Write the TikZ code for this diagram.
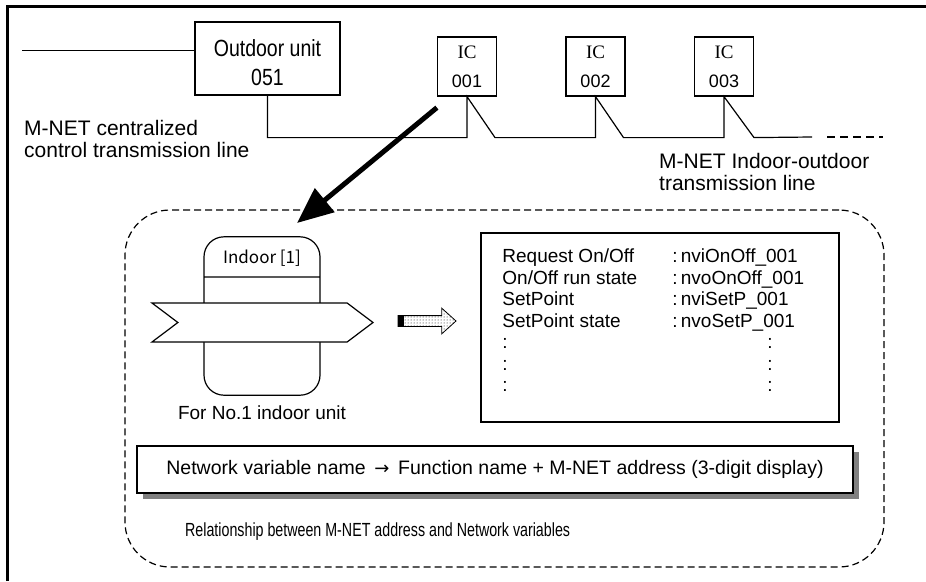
\documentclass[tikz,border=0pt]{standalone}
\usepackage{fontspec}
\setmainfont{Liberation Sans}
\newfontfamily\icfont{Liberation Serif}
\newfontfamily\jpfont{Noto Sans CJK JP}
\newfontfamily\symfont{DejaVu Sans}
\newfontfamily\narrowfont[FakeStretch=0.75]{Liberation Sans}
\usetikzlibrary{shapes.symbols, shapes.arrows, shapes.multipart, arrows.meta, patterns, shadows, positioning}
\tikzstyle{unit} = [rectangle, draw = black, line width=1.2pt, align=center, inner sep=0pt]
\tikzstyle{wire} = [line width=1.2pt]
\tikzstyle{bigarrow} = [-{Triangle[length=36pt, width=30pt]}, line width=5pt]
\tikzstyle{group} = [rectangle, draw = black, line width=1.2pt, dash pattern=on 7pt off 4pt, rounded corners=45pt]
\tikzstyle{netlabel} = [inner sep=0pt, align=left, font=\fontsize{21}{22}\selectfont]

\begin{document}
\begin{tikzpicture}[x=1pt, y=-1pt, node distance=128.5pt]
\useasboundingbox (0,0) rectangle (926,581);
%外框
\draw[line width=3pt] (7,581) -- (7,6) -- (926,6);
%室外机和室内机
\node[unit, minimum width=145pt, minimum height=73pt, font=\fontsize{19.5}{29}\selectfont](out) at (267.5,58.5){\rule{0pt}{26pt}\scalebox{1}[1.2]{Outdoor unit}\\\scalebox{1}[1.2]{051}};
\node[unit, minimum size=59pt, font=\fontsize{18}{29}\selectfont](ic1) at (467,66.5){{\icfont\fontsize{19}{29}\selectfont IC}\\001};
\node[unit, minimum size=59pt, font=\fontsize{18}{29}\selectfont, right of = ic1](ic2){{\icfont\fontsize{19}{29}\selectfont IC}\\002};
\node[unit, minimum size=59pt, font=\fontsize{18}{29}\selectfont, right of = ic2](ic3){{\icfont\fontsize{19}{29}\selectfont IC}\\003};
\coordinate (lin) at (22,50.5);
\coordinate (lend) at (812,137);
\coordinate (d1) at (827,137);
\coordinate (d2) at (883,137);
\node[netlabel, anchor=north west](ctl) at (24,120){M-NET centralized\\control transmission line};
\node[netlabel, anchor=north west](ioline) at (659,153){M-NET Indoor-outdoor\\transmission line};
%连接线
\draw[wire] (lin) -- (lin -| out.west);
\draw[wire] (out.south) |- ([yshift=-41pt]ic1.south) -- (ic1.south) -- ++(28,41) -| (ic2.south) -- ++(28,41) -| (ic3.south) -- ++(30,41) -- (lend);
\draw[wire, dash pattern=on 8pt off 5pt] (d1) -- (d2);
%虚线框
\node[group, minimum width=759pt, minimum height=357pt](grp) at (504.5,388.5){};
\coordinate (tip) at (297,223);
\draw[bigarrow] ([yshift=-11pt]ic1.south west) -- (tip);
%室内机
\node[draw, rectangle split, rectangle split parts=2, rounded corners=20pt, line width=1.2pt, minimum width=116pt, inner sep=0pt, rectangle split empty part height=117pt, font=\jpfont\fontsize{17}{20}\selectfont](indoor) at (262,316){\rule[-13pt]{0pt}{39pt}Indoor [1]\nodepart{two}};
\node[signal, signal from=west, signal to=east, draw, fill=white, line width=1.2pt, minimum width=221pt, minimum height=39pt, signal pointer angle=74, inner sep=0pt](band) at (262.5,322.5){};
\node[below = 6pt of indoor, font=\fontsize{19}{22}\selectfont](cap1){For No.1 indoor unit};
%点状箭头
\node[single arrow, draw, pattern=dots, line width=0.8pt, minimum height=58pt, minimum width=25pt, inner xsep=0pt, inner ysep=5pt, single arrow head extend=7.5pt, single arrow tip angle=84](darr) at (424,321){};
\fill ([yshift=5pt]darr.tail) rectangle ([xshift=6pt, yshift=-5pt]darr.tail);
%变量表
\node[draw, line width=1.5pt, minimum width=358pt, minimum height=189pt](vars) at (660,327.5){};
\node[anchor=north west, inner sep=0pt, font=\fontsize{19}{21.5}\selectfont](varlist) at ([xshift=22pt, yshift=-15pt]vars.north west){%
\begin{tabular}{@{}p{170pt}@{}l@{}}
Request On/Off & :\,nviOnOff\_001\\
On/Off run state & :\,nvoOnOff\_001\\
SetPoint & :\,nviSetP\_001\\
SetPoint state & :\,nvoSetP\_001\\
: & \hspace{95pt}:\\
: & \hspace{95pt}:\\
: & \hspace{95pt}:
\end{tabular}};
\node[draw, line width=1.5pt, fill=white, minimum width=716pt, minimum height=47pt, drop shadow={shadow xshift=6pt, shadow yshift=-6pt, fill=gray, opacity=1}, font=\fontsize{19.5}{22}\selectfont](naming) at (495,469.5){Network variable name \,{\symfont\fontsize{18}{22}\selectfont →}\, Function name + M-NET address (3-digit display)};
\node[anchor=west, inner sep=0pt, font=\narrowfont\fontsize{19}{22}\selectfont](note) at (185,532){Relationship between M-NET address and Network variables};
\end{tikzpicture}
\end{document}
